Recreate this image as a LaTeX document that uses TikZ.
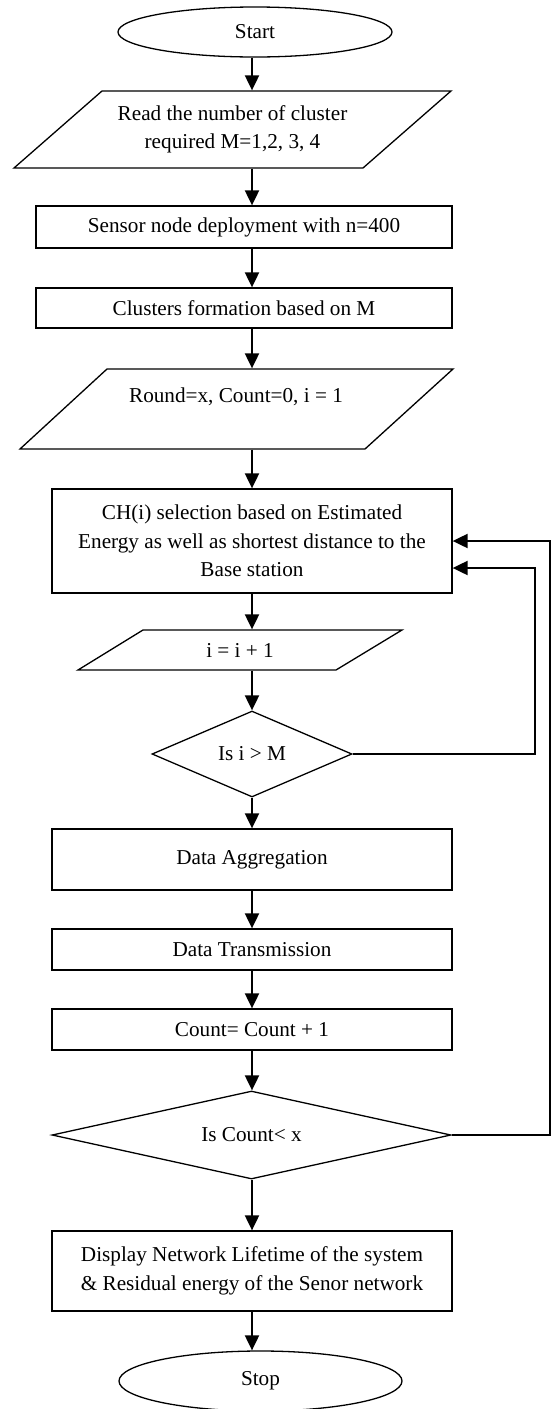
\documentclass[tikz,border=0pt]{standalone}
\usepackage{fontspec}
\setmainfont{Liberation Serif}
\usepackage{tikz}
\usetikzlibrary{arrows.meta,shapes.geometric,calc}
\tikzset{edge/.style = {-{Triangle[length=7.5pt,width=7pt]}, line width=1pt}}

\begin{document}
\begin{tikzpicture}[x=0.5pt,y=-0.5pt,line width=0.65pt,
    every node/.style={font=\fontsize{10.6}{14.25}\selectfont, align=center, inner sep=0pt},
    term node/.style={ellipse,draw},
    proc node/.style={rectangle,draw,minimum width=200pt},
    io node/.style={rectangle},
    test node/.style={diamond,draw,aspect=2}]
            \useasboundingbox (0,0) rectangle (555,1409);
            \coordinate (axis) at (252,0);

            \node[term node,minimum width=137pt,minimum height=25pt] (start) at (255,32) {Start};
            \node[io node,minimum width=174.5pt,minimum height=38.5pt] (read) at (232.5,129.5) {Read the number of cluster\\required M=1,2, 3, 4};
            \node[proc node,minimum width=208pt,minimum height=21pt] (deploy) at (244,227) {Sensor node deployment with n=400};
            \node[proc node,minimum width=208pt,minimum height=20pt] (clusters) at (244,308) {Clusters formation based on M};
            \node[io node,minimum width=173pt,minimum height=40pt] (round) at (236,409) {Round=x, Count=0, i = 1\\\mbox{}};
            \node[proc node,minimum height=52pt] (chsel) at (252,541) {CH(i) selection based on Estimated\\Energy as well as shortest distance to the\\Base station};
            \node[io node,minimum width=129pt,minimum height=20pt] (incr) at (240,650) {i = i + 1};
            \node[test node,minimum width=100pt,minimum height=43pt] (test1) at (252,754) {Is i > M};
            \node[proc node,minimum height=30.5pt] (aggr) at (252,859.5) {Data Aggregation};
            \node[proc node,minimum height=20.5pt] (trans) at (252,949.5) {Data Transmission};
            \node[proc node,minimum height=20.5pt] (count) at (252,1029.5) {Count= Count + 1};
            \node[test node,minimum width=199.5pt,minimum height=44pt] (test2) at (251.5,1135) {Is Count< x};
            \node[proc node,minimum height=40pt] (show) at (252,1271) {Display Network Lifetime of the system\\\& Residual energy of the Senor network};
            \node[term node,minimum width=141.5pt,minimum height=30pt] (stop) at (260.5,1381) {Stop};

            % parallelogram outlines
            \draw (102,91) -- (451,91) -- (363,168) -- (14,168) -- cycle;
            \draw (107,369) -- (453,369) -- (365,449) -- (20,449) -- cycle;
            \draw (143,630) -- (402,630) -- (336,670) -- (78,670) -- cycle;

            \draw[edge] (start.south -| axis) -- (read.north -| axis);
            \draw[edge] (read.south -| axis) -- (deploy.north -| axis);
            \draw[edge] (deploy.south -| axis) -- (clusters.north -| axis);
            \draw[edge] (clusters.south -| axis) -- (round.north -| axis);
            \draw[edge] (round.south -| axis) -- (chsel.north);
            \draw[edge] (chsel.south) -- (incr.north -| axis);
            \draw[edge] (incr.south -| axis) -- (test1.north);
            \draw[edge] (test1.south) -- (aggr.north);
            \draw[edge] (aggr.south) -- (trans.north);
            \draw[edge] (trans.south) -- (count.north);
            \draw[edge] (count.south) -- (test2.north -| axis);
            \draw[edge] (test2.south -| axis) -- (show.north);
            \draw[edge] (show.south) -- (stop.north -| axis);

            % loops back to CH selection
            \draw[edge] (test1.east) -- ++(182,0) |- ($(chsel.east)+(0,27)$);
            \draw[edge] (test2.east) -- ++(98,0) |- (chsel.east);
        \end{tikzpicture}
\end{document}
